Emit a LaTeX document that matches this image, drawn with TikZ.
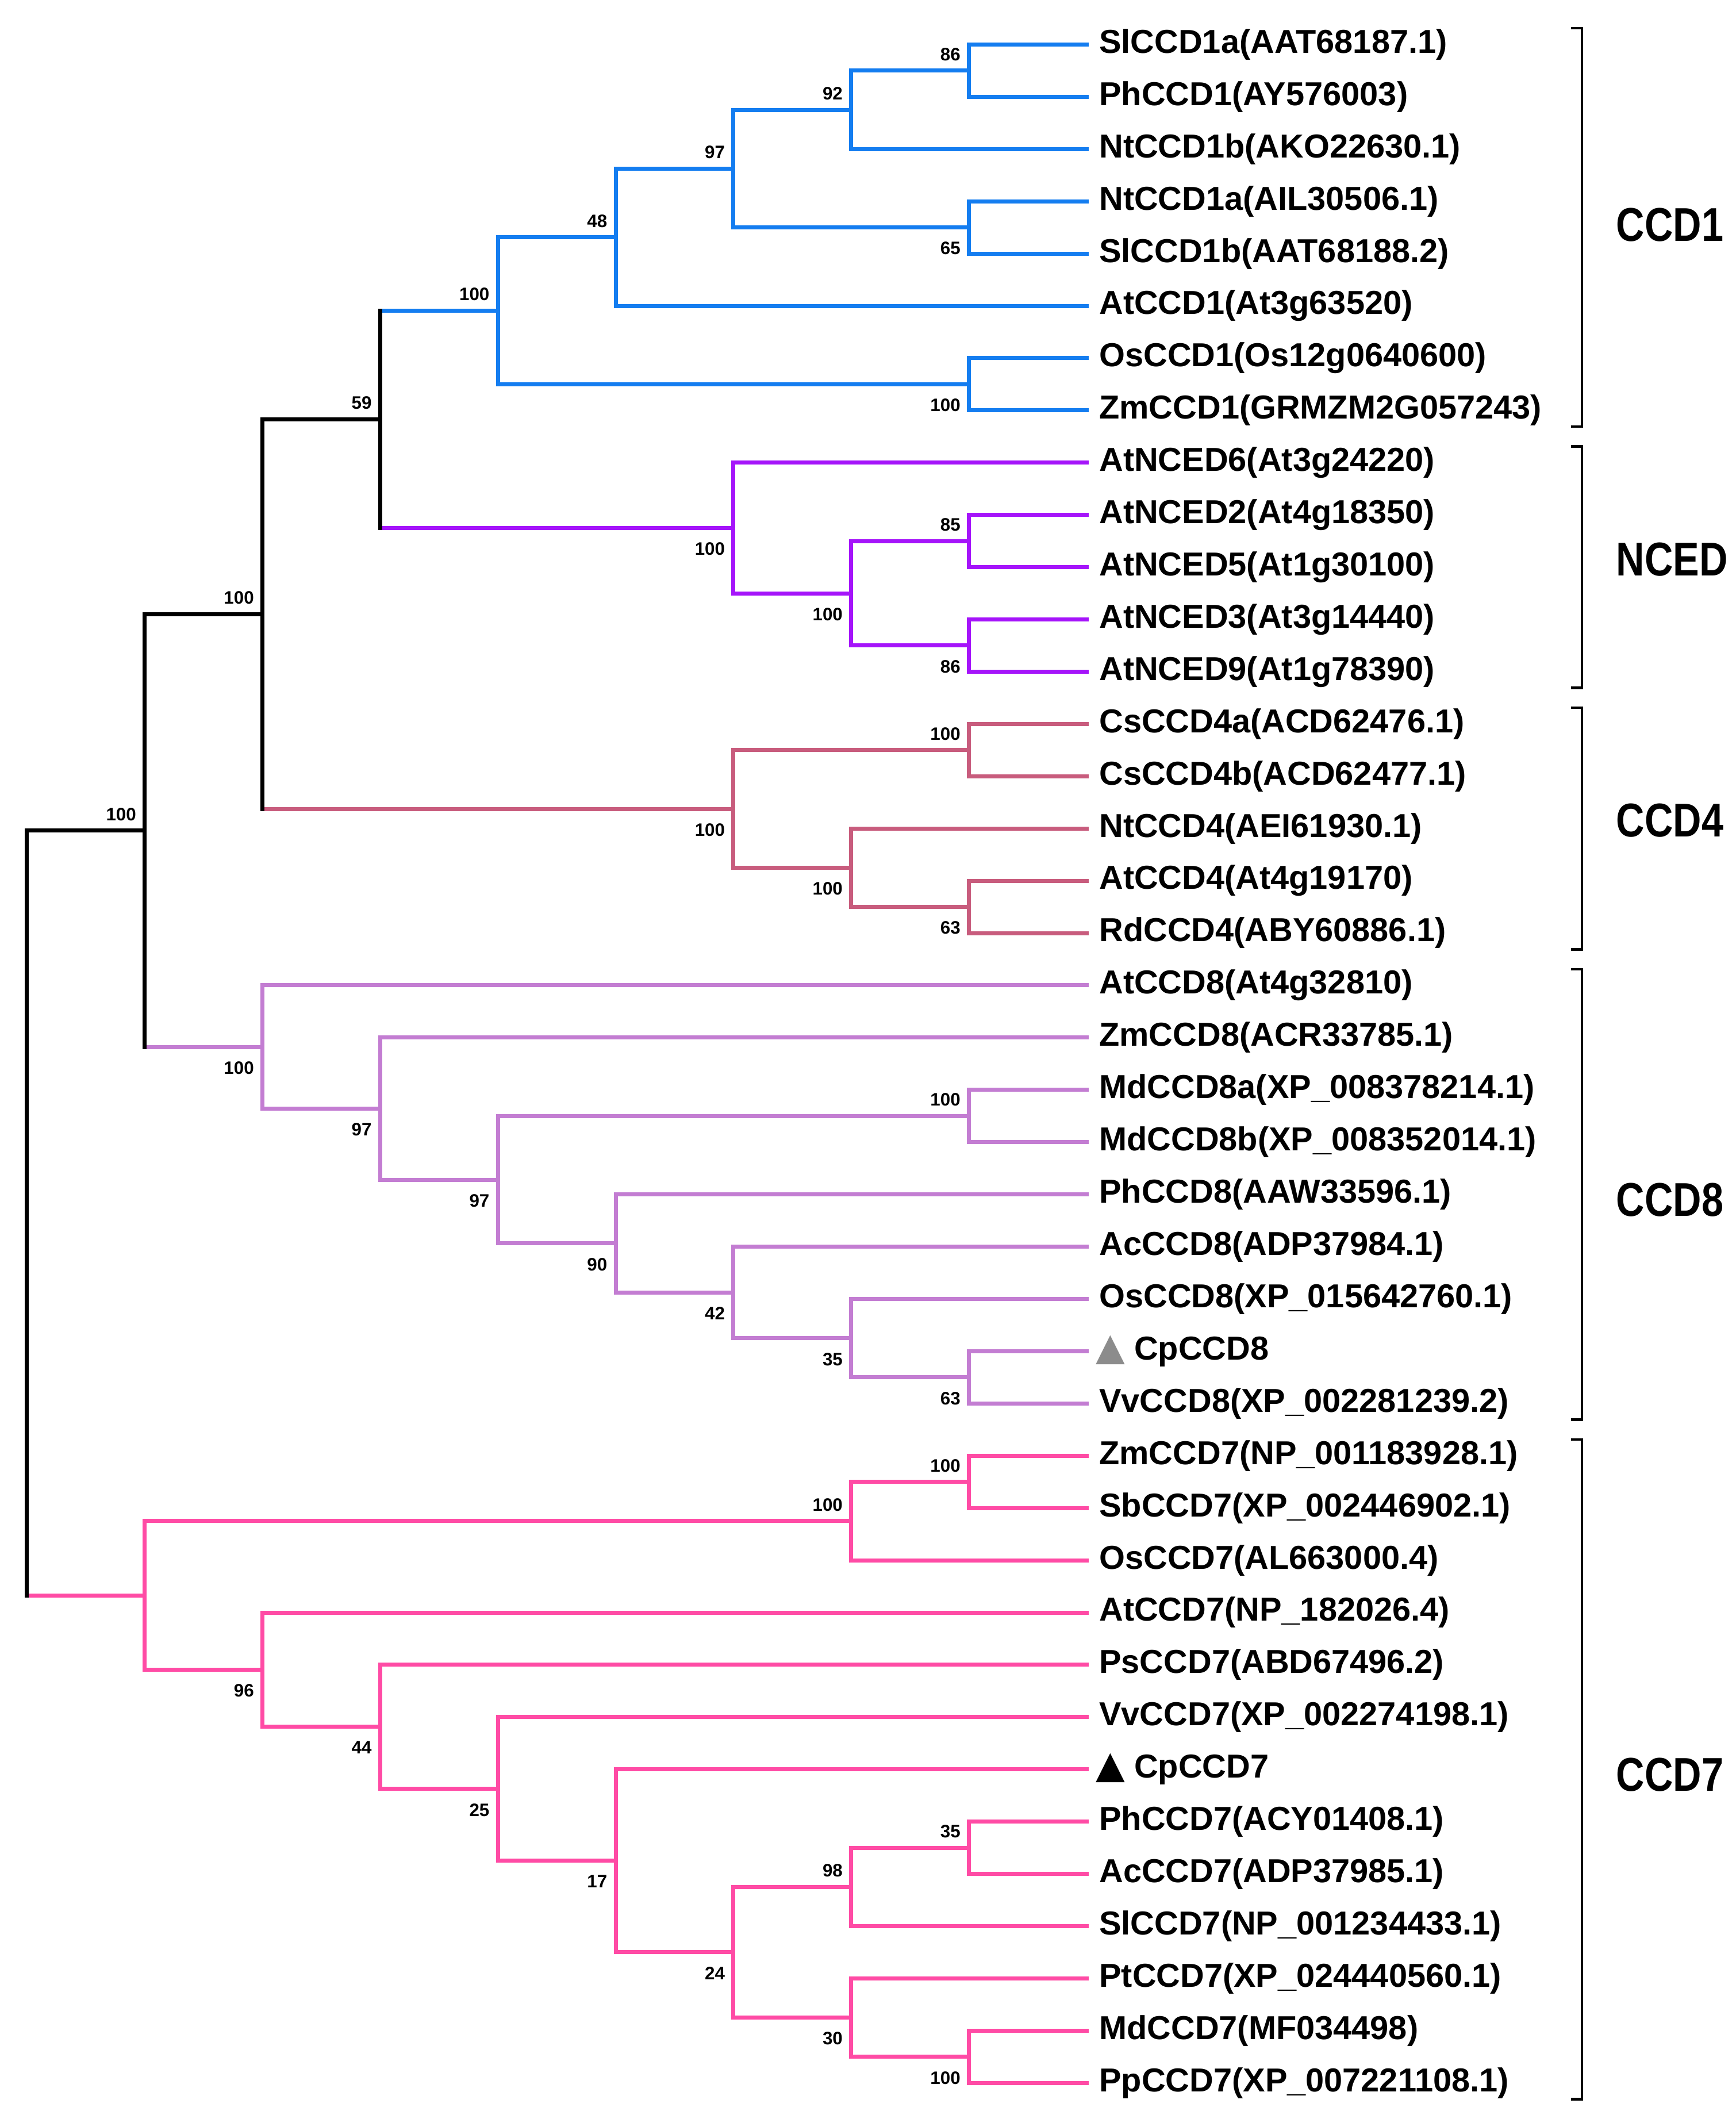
\documentclass[tikz,border=0pt]{standalone}
\usepackage{fontspec}
\setmainfont{Liberation Sans}
\newfontfamily\cladefam{Liberation Sans}[FakeStretch=0.83]
\newfontfamily\symfam{DejaVu Sans}
\definecolor{ccdone}{RGB}{20,125,240}
\definecolor{nced}{RGB}{165,20,250}
\definecolor{ccdfour}{RGB}{200,92,125}
\definecolor{ccdeight}{RGB}{195,125,210}
\definecolor{ccdseven}{RGB}{255,75,165}
\definecolor{markgray}{RGB}{140,140,140}
\newcommand\leaffont{\fontsize{14}{16}\selectfont\bfseries}
\newcommand\bsfont{\fontsize{7.6}{9}\selectfont\bfseries}
\newcommand\tri[1]{{\symfam\fontsize{16}{16}\selectfont\color{#1}▲}}

\begin{document}
\begin{tikzpicture}[x=1.746cm, y=-0.775cm,
    br/.style={line width=1.7pt, line cap=rect},
    brk/.style={line width=1.1pt},
    leaf/.style={anchor=west, inner xsep=0.18cm, inner ysep=0pt, font=\leaffont},
    bsa/.style={anchor=south east, inner sep=0pt, xshift=-0.12cm, yshift=0.14cm, font=\bsfont},
    bsb/.style={anchor=north east, inner sep=0pt, xshift=-0.12cm, yshift=-0.21cm, font=\bsfont},
    clade/.style={anchor=west, inner sep=0pt, font=\cladefam\bfseries\fontsize{20}{22}\selectfont}]
    \useasboundingbox (-0.4cm,0.66cm) rectangle (25.34cm,-30.7cm);

    \node[leaf] (l0) at (9,0) {SlCCD1a(AAT68187.1)};
    \node[leaf] (l1) at (9,1) {PhCCD1(AY576003)};
    \node[leaf] (l2) at (9,2) {NtCCD1b(AKO22630.1)};
    \node[leaf] (l3) at (9,3) {NtCCD1a(AIL30506.1)};
    \node[leaf] (l4) at (9,4) {SlCCD1b(AAT68188.2)};
    \node[leaf] (l5) at (9,5) {AtCCD1(At3g63520)};
    \node[leaf] (l6) at (9,6) {OsCCD1(Os12g0640600)};
    \node[leaf] (l7) at (9,7) {ZmCCD1(GRMZM2G057243)};
    \node[leaf] (l8) at (9,8) {AtNCED6(At3g24220)};
    \node[leaf] (l9) at (9,9) {AtNCED2(At4g18350)};
    \node[leaf] (l10) at (9,10) {AtNCED5(At1g30100)};
    \node[leaf] (l11) at (9,11) {AtNCED3(At3g14440)};
    \node[leaf] (l12) at (9,12) {AtNCED9(At1g78390)};
    \node[leaf] (l13) at (9,13) {CsCCD4a(ACD62476.1)};
    \node[leaf] (l14) at (9,14) {CsCCD4b(ACD62477.1)};
    \node[leaf] (l15) at (9,15) {NtCCD4(AEI61930.1)};
    \node[leaf] (l16) at (9,16) {AtCCD4(At4g19170)};
    \node[leaf] (l17) at (9,17) {RdCCD4(ABY60886.1)};
    \node[leaf] (l18) at (9,18) {AtCCD8(At4g32810)};
    \node[leaf] (l19) at (9,19) {ZmCCD8(ACR33785.1)};
    \node[leaf] (l20) at (9,20) {MdCCD8a(XP\_008378214.1)};
    \node[leaf] (l21) at (9,21) {MdCCD8b(XP\_008352014.1)};
    \node[leaf] (l22) at (9,22) {PhCCD8(AAW33596.1)};
    \node[leaf] (l23) at (9,23) {AcCCD8(ADP37984.1)};
    \node[leaf] (l24) at (9,24) {OsCCD8(XP\_015642760.1)};
    \node[leaf, inner xsep=0.13cm] (l25) at (9,25) {\tri{markgray} CpCCD8};
    \node[leaf] (l26) at (9,26) {VvCCD8(XP\_002281239.2)};
    \node[leaf] (l27) at (9,27) {ZmCCD7(NP\_001183928.1)};
    \node[leaf] (l28) at (9,28) {SbCCD7(XP\_002446902.1)};
    \node[leaf] (l29) at (9,29) {OsCCD7(AL663000.4)};
    \node[leaf] (l30) at (9,30) {AtCCD7(NP\_182026.4)};
    \node[leaf] (l31) at (9,31) {PsCCD7(ABD67496.2)};
    \node[leaf] (l32) at (9,32) {VvCCD7(XP\_002274198.1)};
    \node[leaf, inner xsep=0.13cm] (l33) at (9,33) {\tri{black} CpCCD7};
    \node[leaf] (l34) at (9,34) {PhCCD7(ACY01408.1)};
    \node[leaf] (l35) at (9,35) {AcCCD7(ADP37985.1)};
    \node[leaf] (l36) at (9,36) {SlCCD7(NP\_001234433.1)};
    \node[leaf] (l37) at (9,37) {PtCCD7(XP\_024440560.1)};
    \node[leaf] (l38) at (9,38) {MdCCD7(MF034498)};
    \node[leaf] (l39) at (9,39) {PpCCD7(XP\_007221108.1)};

    \coordinate (root) at (0,22.355);
    \coordinate (bb1) at (1,15.039);
    \coordinate (bb2) at (2,10.898);
    \coordinate (bb3) at (3,7.172);
    \coordinate (c1a) at (8,0.5);
    \coordinate (c1b) at (7,1.25);
    \coordinate (c1c) at (8,3.5);
    \coordinate (c1d) at (6,2.375);
    \coordinate (c1e) at (5,3.6875);
    \coordinate (c1f) at (8,6.5);
    \coordinate (c1g) at (4,5.094);
    \coordinate (nca) at (8,9.5);
    \coordinate (ncb) at (8,11.5);
    \coordinate (ncc) at (7,10.5);
    \coordinate (ncd) at (6,9.25);
    \coordinate (c4a) at (8,13.5);
    \coordinate (c4b) at (8,16.5);
    \coordinate (c4c) at (7,15.75);
    \coordinate (c4d) at (6,14.625);
    \coordinate (c8a) at (8,20.5);
    \coordinate (c8b) at (8,25.5);
    \coordinate (c8c) at (7,24.75);
    \coordinate (c8d) at (6,23.875);
    \coordinate (c8e) at (5,22.9375);
    \coordinate (c8f) at (4,21.719);
    \coordinate (c8g) at (3,20.359);
    \coordinate (c8h) at (2,19.180);
    \coordinate (c7a) at (8,27.5);
    \coordinate (c7b) at (7,28.25);
    \coordinate (c7c) at (8,34.5);
    \coordinate (c7d) at (7,35.25);
    \coordinate (c7e) at (8,38.5);
    \coordinate (c7f) at (7,37.75);
    \coordinate (c7g) at (6,36.5);
    \coordinate (c7h) at (5,34.75);
    \coordinate (c7i) at (4,33.375);
    \coordinate (c7j) at (3,32.1875);
    \coordinate (c7k) at (2,31.094);
    \coordinate (c7l) at (1,29.672);

    \draw[br, ccdone] (c1g) |- (c1e) (c1g) |- (c1f);
    \draw[br, ccdone] (c1e) |- (c1d) (c1e) |- (l5);
    \draw[br, ccdone] (c1d) |- (c1b) (c1d) |- (c1c);
    \draw[br, ccdone] (c1b) |- (c1a) (c1b) |- (l2);
    \draw[br, ccdone] (c1a) |- (l0) (c1a) |- (l1);
    \draw[br, ccdone] (c1c) |- (l3) (c1c) |- (l4);
    \draw[br, ccdone] (c1f) |- (l6) (c1f) |- (l7);

    \draw[br, nced] (ncd) |- (l8) (ncd) |- (ncc);
    \draw[br, nced] (ncc) |- (nca) (ncc) |- (ncb);
    \draw[br, nced] (nca) |- (l9) (nca) |- (l10);
    \draw[br, nced] (ncb) |- (l11) (ncb) |- (l12);

    \draw[br, ccdfour] (c4d) |- (c4a) (c4d) |- (c4c);
    \draw[br, ccdfour] (c4a) |- (l13) (c4a) |- (l14);
    \draw[br, ccdfour] (c4c) |- (l15) (c4c) |- (c4b);
    \draw[br, ccdfour] (c4b) |- (l16) (c4b) |- (l17);

    \draw[br, ccdeight] (c8h) |- (l18) (c8h) |- (c8g);
    \draw[br, ccdeight] (c8g) |- (l19) (c8g) |- (c8f);
    \draw[br, ccdeight] (c8f) |- (c8a) (c8f) |- (c8e);
    \draw[br, ccdeight] (c8a) |- (l20) (c8a) |- (l21);
    \draw[br, ccdeight] (c8e) |- (l22) (c8e) |- (c8d);
    \draw[br, ccdeight] (c8d) |- (l23) (c8d) |- (c8c);
    \draw[br, ccdeight] (c8c) |- (l24) (c8c) |- (c8b);
    \draw[br, ccdeight] (c8b) |- (l25) (c8b) |- (l26);

    \draw[br, ccdseven] (c7l) |- (c7b) (c7l) |- (c7k);
    \draw[br, ccdseven] (c7b) |- (c7a) (c7b) |- (l29);
    \draw[br, ccdseven] (c7a) |- (l27) (c7a) |- (l28);
    \draw[br, ccdseven] (c7k) |- (l30) (c7k) |- (c7j);
    \draw[br, ccdseven] (c7j) |- (l31) (c7j) |- (c7i);
    \draw[br, ccdseven] (c7i) |- (l32) (c7i) |- (c7h);
    \draw[br, ccdseven] (c7h) |- (l33) (c7h) |- (c7g);
    \draw[br, ccdseven] (c7g) |- (c7d) (c7g) |- (c7f);
    \draw[br, ccdseven] (c7d) |- (c7c) (c7d) |- (l36);
    \draw[br, ccdseven] (c7c) |- (l34) (c7c) |- (l35);
    \draw[br, ccdseven] (c7f) |- (l37) (c7f) |- (c7e);
    \draw[br, ccdseven] (c7e) |- (l38) (c7e) |- (l39);

    \draw[br, ccdseven] (root |- c7l) -- (c7l);
    \draw[br, ccdeight] (bb1 |- c8h) -- (c8h);
    \draw[br, ccdfour] (bb2 |- c4d) -- (c4d);
    \draw[br, ccdone] (bb3 |- c1g) -- (c1g);
    \draw[br, nced] (bb3 |- ncd) -- (ncd);
    \draw[br] (root) |- (bb1) (root) -- (root |- c7l);
    \draw[br] (bb1) |- (bb2) (bb1) -- (bb1 |- c8h);
    \draw[br] (bb2) |- (bb3) (bb2) -- (bb2 |- c4d);
    \draw[br] (bb3 |- c1g) -- (bb3 |- ncd);

    \node[bsa] (vbb1) at (bb1) {100};
    \node[bsa] (vbb2) at (bb2) {100};
    \node[bsa] (vbb3) at (bb3) {59};
    \node[bsa] (vc1g) at (c1g) {100};
    \node[bsa] (vc1e) at (c1e) {48};
    \node[bsa] (vc1d) at (c1d) {97};
    \node[bsa] (vc1b) at (c1b) {92};
    \node[bsa] (vc1a) at (c1a) {86};
    \node[bsb] (vc1c) at (c1c) {65};
    \node[bsb] (vc1f) at (c1f) {100};
    \node[bsb] (vncd) at (ncd) {100};
    \node[bsa] (vnca) at (nca) {85};
    \node[bsb] (vncc) at (ncc) {100};
    \node[bsb] (vncb) at (ncb) {86};
    \node[bsb] (vc4d) at (c4d) {100};
    \node[bsa] (vc4a) at (c4a) {100};
    \node[bsb] (vc4c) at (c4c) {100};
    \node[bsb] (vc4b) at (c4b) {63};
    \node[bsb] (vc8h) at (c8h) {100};
    \node[bsb] (vc8g) at (c8g) {97};
    \node[bsb] (vc8f) at (c8f) {97};
    \node[bsa] (vc8a) at (c8a) {100};
    \node[bsb] (vc8e) at (c8e) {90};
    \node[bsb] (vc8d) at (c8d) {42};
    \node[bsb] (vc8c) at (c8c) {35};
    \node[bsb] (vc8b) at (c8b) {63};
    \node[bsa] (vc7b) at (c7b) {100};
    \node[bsa] (vc7a) at (c7a) {100};
    \node[bsb] (vc7k) at (c7k) {96};
    \node[bsb] (vc7j) at (c7j) {44};
    \node[bsb] (vc7i) at (c7i) {25};
    \node[bsb] (vc7h) at (c7h) {17};
    \node[bsb] (vc7g) at (c7g) {24};
    \node[bsa] (vc7d) at (c7d) {98};
    \node[bsa] (vc7c) at (c7c) {35};
    \node[bsb] (vc7f) at (c7f) {30};
    \node[bsb] (vc7e) at (c7e) {100};

    \coordinate (k1t) at (13.207,-0.31);
    \coordinate (k1b) at (13.207,7.31);
    \coordinate (k2t) at (13.207,7.69);
    \coordinate (k2b) at (13.207,12.31);
    \coordinate (k3t) at (13.207,12.69);
    \coordinate (k3b) at (13.207,17.31);
    \coordinate (k4t) at (13.207,17.69);
    \coordinate (k4b) at (13.207,26.31);
    \coordinate (k5t) at (13.207,26.69);
    \coordinate (k5b) at (13.207,39.31);
    \draw[brk] ([xshift=-0.16cm]k1t) -- (k1t) -- (k1b) -- ([xshift=-0.16cm]k1b);
    \draw[brk] ([xshift=-0.16cm]k2t) -- (k2t) -- (k2b) -- ([xshift=-0.16cm]k2b);
    \draw[brk] ([xshift=-0.16cm]k3t) -- (k3t) -- (k3b) -- ([xshift=-0.16cm]k3b);
    \draw[brk] ([xshift=-0.16cm]k4t) -- (k4t) -- (k4b) -- ([xshift=-0.16cm]k4b);
    \draw[brk] ([xshift=-0.16cm]k5t) -- (k5t) -- (k5b) -- ([xshift=-0.16cm]k5b);

    \node[clade] (g1) at (13.494,3.45) {CCD1};
    \node[clade] (g2) at (13.494,9.85) {NCED};
    \node[clade] (g3) at (13.494,14.85) {CCD4};
    \node[clade] (g4) at (13.494,22.1) {CCD8};
    \node[clade] (g5) at (13.494,33.1) {CCD7};
\end{tikzpicture}
\end{document}
